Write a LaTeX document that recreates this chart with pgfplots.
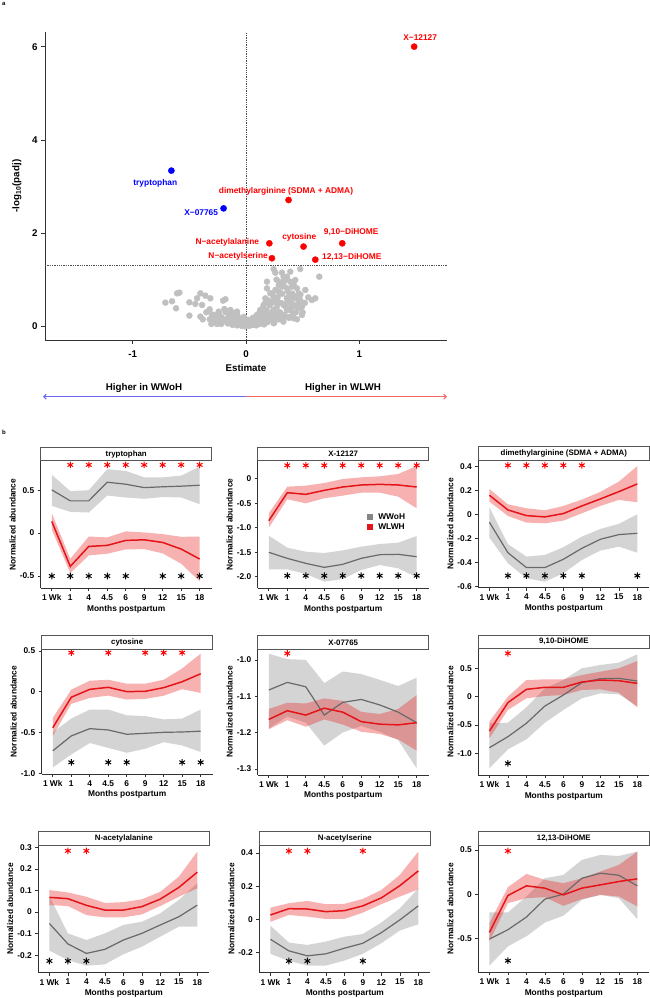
\documentclass[border=0pt]{standalone}
\usepackage{pgfplots}
\pgfplotsset{compat=1.18}
\usepackage{pgfplotstable}
\usetikzlibrary{arrows.meta}
\usepackage{fontspec}
\setmainfont{Liberation Sans}

\definecolor{linered}{RGB}{228,20,24}
\definecolor{linegray}{RGB}{105,105,105}
\definecolor{bandred}{RGB}{235,40,40}
\definecolor{bandgray}{RGB}{120,120,120}
\definecolor{dotgray}{RGB}{192,192,192}
\definecolor{sigred}{RGB}{255,0,0}
\definecolor{sigblue}{RGB}{0,0,255}
\definecolor{stripc}{RGB}{85,85,85}

\newcommand{\tickfont}{\bfseries\fontsize{8.4}{9}\selectfont}
\newcommand{\labfont}{\bfseries\fontsize{8.4}{9}\selectfont}

\pgfplotsset{
  base/.style={
    scale only axis,
    axis x line*=bottom, axis y line*=left,
    axis line style={-, line width=0.6bp, draw=black!80},
    tick align=outside, major tick length=3bp,
    every tick/.style={black!80, line width=0.6bp},
    tick label style={font=\tickfont},
    label style={font=\labfont},
    /pgf/number format/assume math mode=true,
  },
  pan/.style={
    base, width=171bp, anchor=north west,
    xmin=-0.6, xmax=8.65,
    xtick={0,...,8}, xticklabels={1 Wk,1,4,4.5,6,9,12,15,18},
    xlabel={Months postpartum}, ylabel={Normalized abundance},
    xlabel style={at={(axis description cs:0.5,-0.165)}, anchor=center},
    ylabel style={at={(axis description cs:-0.164,0.5)}, anchor=center},
  },
  gband/.style={fill=bandgray, fill opacity=0.32, draw=none},
  rband/.style={fill=bandred, fill opacity=0.36, draw=none},
  gline/.style={draw=linegray, line width=1.2bp},
  rline/.style={draw=linered, line width=1.5bp},
  rstar/.style={only marks, mark=asterisk, mark size=3.3bp,
    mark options={line width=1bp}, color=sigred},
  kstar/.style={only marks, mark=asterisk, mark size=3.3bp,
    mark options={line width=1bp}, color=black},
}

% #1: band table (rows 1-9 upper limits, rows 10-18 lower limits reversed)
% #2: mean table; g = WWoH, r = WLWH
\newcommand{\ribbons}[2]{%
  \addplot[gband] table[x=t,y=g]{#1};
  \addplot[rband] table[x=t,y=r]{#1};
  \addplot[gline] table[x=t,y=g]{#2};
  \addplot[rline] table[x=t,y=r]{#2};
}
\newcommand{\facetstrip}[2]{%
  \draw[stripc, fill=white, line width=0.6bp] (#1.north west) rectangle ([yshift=13.4bp]#1.north east);
  \node[font=\bfseries\fontsize{7.9}{9}\selectfont, inner sep=0pt] at ([yshift=6.7bp]#1.north) {#2};
}

% volcano: non-significant metabolites
\pgfplotstableread{
x y
-0.712 0.507
-0.653 0.536
-0.618 0.386
-0.609 0.707
-0.588 0.721
-0.500 0.514
-0.500 0.229
-0.447 0.479
-0.432 0.600
-0.403 0.707
-0.388 0.457
-0.403 0.207
-0.382 0.150
-0.359 0.657
-0.315 0.600
-0.321 0.364
-0.306 0.050
-0.285 0.243
-0.256 0.050
-0.241 0.314
-0.218 0.171
-0.203 0.550
-0.182 0.579
-0.191 0.371
-0.168 0.314
-0.138 0.350
-0.109 0.279
-0.079 0.314
-0.074 0.221
0.009 0.064
0.068 0.136
0.097 0.243
0.126 0.350
0.156 0.457
0.171 0.600
0.185 0.814
0.185 0.957
0.244 1.229
0.259 1.150
0.318 1.150
0.332 1.064
0.362 1.064
0.391 1.171
0.347 0.993
0.391 0.957
0.435 0.993
0.479 1.229
0.524 0.779
0.582 0.564
0.612 0.600
0.647 1.064
0.494 0.421
0.494 0.243
0.421 0.171
0.391 0.207
0.362 0.350
0.274 0.564
0.244 0.636
0.215 0.707
0.288 0.743
0.318 0.850
0.362 0.814
0.406 0.850
0.450 0.814
0.465 0.707
0.421 0.636
0.479 0.564
0.450 0.421
0.406 0.457
0.332 0.457
0.244 0.350
0.215 0.243
0.274 0.243
0.332 0.171
0.244 0.064
0.185 0.136
0.156 0.064
-0.28 0.12
-0.25 0.08
-0.22 0.05
-0.20 0.10
-0.18 0.15
-0.16 0.06
-0.14 0.20
-0.13 0.10
-0.12 0.03
-0.10 0.14
-0.09 0.07
-0.08 0.02
-0.07 0.11
-0.06 0.17
-0.05 0.05
-0.04 0.01
-0.03 0.09
-0.02 0.03
-0.01 0.00
0.00 0.05
0.01 0.02
0.02 0.08
0.03 0.01
0.04 0.04
0.05 0.10
0.06 0.03
0.07 0.06
0.08 0.12
0.09 0.02
0.10 0.08
0.11 0.15
0.12 0.05
0.13 0.20
0.14 0.10
0.15 0.27
0.16 0.04
0.17 0.18
0.18 0.35
0.19 0.09
0.20 0.25
0.21 0.45
0.22 0.14
0.23 0.30
0.24 0.52
0.25 0.08
0.26 0.20
0.27 0.40
0.28 0.62
0.29 0.15
0.30 0.30
0.31 0.50
0.32 0.70
0.33 0.10
0.34 0.25
0.35 0.42
0.36 0.60
0.37 0.75
0.38 0.18
0.39 0.35
0.40 0.55
0.41 0.70
0.42 0.28
0.43 0.45
0.44 0.60
0.46 0.38
0.47 0.52
0.48 0.68
0.50 0.30
0.52 0.50
0.55 0.62
-0.18 0.30
-0.15 0.25
-0.22 0.20
-0.26 0.18
-0.30 0.25
-0.32 0.15
-0.35 0.30
-0.12 0.28
-0.08 0.22
-0.04 0.15
0.02 0.14
0.06 0.18
0.09 0.22
0.12 0.30
0.15 0.40
0.17 0.50
0.20 0.55
0.23 0.70
0.26 0.78
0.29 0.88
0.30 0.95
0.27 1.00
0.33 0.90
0.36 0.50
0.38 0.65
0.40 0.40
0.42 0.90
0.44 0.30
0.45 0.15
0.28 0.48
0.31 0.20
0.25 0.35
0.10 0.20
-0.02 0.20
-0.11 0.20
-0.24 0.28
}\vgray

% time courses: t = 1 Wk,1,4,4.5,6,9,12,15,18 months
% tryptophan
\pgfplotstableread{
t g r
0 0.504 0.136
1 0.376 -0.388
2 0.376 -0.155
3 0.593 -0.143
4 0.57 -0.085
5 0.53 -0.078
6 0.54 -0.109
7 0.547 -0.186
8 0.558 -0.302
}\mA
\pgfplotstableread{
t g r
0 0.68 0.233
1 0.49 -0.30
2 0.50 -0.04
3 0.744 -0.05
4 0.725 0.02
5 0.65 0.008
6 0.65 -0.012
7 0.67 -0.043
8 0.775 -0.04
8 0.337 -0.562
7 0.415 -0.357
6 0.42 -0.236
5 0.40 -0.186
4 0.415 -0.19
3 0.438 -0.24
2 0.24 -0.26
1 0.248 -0.465
0 0.318 0.04
}\bA
% X-12127
\pgfplotstableread{
t g r
0 -1.503 -0.857
1 -1.626 -0.286
2 -1.728 -0.32
3 -1.81 -0.238
4 -1.748 -0.17
5 -1.626 -0.129
6 -1.551 -0.116
7 -1.544 -0.129
8 -1.592 -0.17
}\mB
\pgfplotstableread{
t g r
0 -1.163 -0.707
1 -1.408 -0.163
2 -1.49 -0.143
3 -1.517 -0.088
4 -1.463 -0.007
5 -1.388 0.027
6 -1.333 0.048
7 -1.306 0.095
8 -1.17 0.258
8 -2.01 -0.605
7 -1.83 -0.367
6 -1.762 -0.286
5 -1.864 -0.286
4 -2.05 -0.347
3 -2.1 -0.4
2 -1.945 -0.503
1 -1.85 -0.42
0 -1.85 -1.0
}\bB
% dimethylarginine (SDMA + ADMA)
\pgfplotstableread{
t g r
0 -0.066 0.158
1 -0.319 0.036
2 -0.443 -0.011
3 -0.443 -0.022
4 -0.374 0.006
5 -0.283 0.069
6 -0.208 0.127
7 -0.169 0.188
8 -0.158 0.252
}\mC
\pgfplotstableread{
t g r
0 0.058 0.21
1 -0.247 0.083
2 -0.352 0.05
3 -0.338 0.033
4 -0.274 0.069
5 -0.186 0.122
6 -0.122 0.186
7 -0.08 0.271
8 0 0.4
8 -0.319 0.1
7 -0.269 0.119
6 -0.302 0.069
5 -0.38 0.008
4 -0.49 -0.053
3 -0.56 -0.075
2 -0.532 -0.069
1 -0.407 -0.014
0 -0.194 0.105
}\bC
% cytosine
\pgfplotstableread{
t g r
0 -0.726 -0.442
1 -0.543 -0.069
2 -0.454 0.028
3 -0.47 0.053
4 -0.523 0
5 -0.511 0.004
6 -0.499 0.049
7 -0.495 0.122
8 -0.485 0.219
}\mD
\pgfplotstableread{
t g r
0 -0.50 -0.32
1 -0.33 0.024
2 -0.22 0.134
3 -0.22 0.146
4 -0.29 0.097
5 -0.30 0.097
6 -0.34 0.146
7 -0.33 0.285
8 -0.22 0.465
8 -0.74 -0.016
7 -0.66 0.03
6 -0.62 -0.05
5 -0.70 -0.089
4 -0.75 -0.097
3 -0.69 -0.049
2 -0.63 -0.077
1 -0.77 -0.15
0 -0.93 -0.543
}\bD
% X-07765
\pgfplotstableread{
t g r
0 -1.083 -1.164
1 -1.062 -1.14
2 -1.074 -1.152
3 -1.152 -1.133
4 -1.117 -1.144
5 -1.109 -1.17
6 -1.124 -1.177
7 -1.144 -1.179
8 -1.173 -1.173
}\mE
\pgfplotstableread{
t g r
0 -0.983 -1.135
1 -0.998 -1.118
2 -1.0 -1.12
3 -1.064 -1.106
4 -1.032 -1.113
5 -1.039 -1.143
6 -1.055 -1.149
7 -1.072 -1.135
8 -1.049 -1.097
8 -1.299 -1.25
7 -1.221 -1.219
6 -1.198 -1.204
5 -1.182 -1.198
4 -1.2 -1.178
3 -1.236 -1.164
2 -1.173 -1.184
1 -1.156 -1.166
0 -1.189 -1.191
}\bE
% 9,10-DiHOME
\pgfplotstableread{
t g r
0 -0.9 -0.606
1 -0.706 -0.106
2 -0.47 0.129
3 -0.165 0.165
4 0.029 0.165
5 0.247 0.259
6 0.318 0.294
7 0.324 0.282
8 0.276 0.235
}\mF
\pgfplotstableread{
t g r
0 -0.47 -0.44
1 -0.459 0
2 -0.188 0.294
3 0.147 0.306
4 0.294 0.306
5 0.5 0.382
6 0.559 0.441
7 0.6 0.5
8 0.747 0.63
8 -0.165 -0.188
7 0.041 0.071
6 0.059 0.129
5 -0.029 0.118
4 -0.235 0.029
3 -0.459 0.012
2 -0.753 -0.029
1 -0.929 -0.235
0 -1.265 -0.735
}\bF
% N-acetylalanine
\pgfplotstableread{
t g r
0 -0.053 0.068
1 -0.148 0.062
2 -0.192 0.031
3 -0.173 0.009
4 -0.13 0.009
5 -0.099 0.025
6 -0.06 0.06
7 -0.022 0.114
8 0.032 0.185
}\mG
\pgfplotstableread{
t g r
0 0.074 0.102
1 -0.099 0.091
2 -0.13 0.071
3 -0.099 0.042
4 -0.06 0.046
5 -0.045 0.059
6 -0.006 0.094
7 0.056 0.164
8 0.133 0.28
8 -0.068 0.11
7 -0.068 0.071
6 -0.114 0.028
5 -0.161 -0.011
4 -0.196 -0.025
3 -0.243 -0.025
2 -0.249 -0.014
1 -0.223 0.028
0 -0.179 0.032
}\bG
% N-acetylserine
\pgfplotstableread{
t g r
0 -0.121 0.026
1 -0.191 0.064
2 -0.221 0.062
3 -0.209 0.046
4 -0.175 0.052
5 -0.145 0.081
6 -0.081 0.129
7 -0.004 0.203
8 0.081 0.292
}\mH
\pgfplotstableread{
t g r
0 -0.038 0.07
1 -0.141 0.097
2 -0.155 0.111
3 -0.135 0.091
4 -0.105 0.093
5 -0.089 0.123
6 -0.02 0.177
7 0.066 0.268
8 0.187 0.409
8 -0.03 0.181
7 -0.068 0.137
6 -0.145 0.091
5 -0.209 0.04
4 -0.25 0.002
3 -0.28 0.002
2 -0.28 0.016
1 -0.252 0.026
0 -0.209 -0.016
}\bH
% 12,13-DiHOME
\pgfplotstableread{
t g r
0 -0.508 -0.432
1 -0.402 -0.015
2 -0.259 0.094
3 -0.056 0.068
4 0 -0.008
5 0.18 0.068
6 0.237 0.105
7 0.214 0.143
8 0.094 0.173
}\mI
\pgfplotstableread{
t g r
0 -0.207 -0.327
1 -0.207 0.079
2 -0.026 0.229
3 0.18 0.162
4 0.218 0.124
5 0.387 0.18
6 0.444 0.256
7 0.432 0.331
8 0.481 0.481
8 -0.282 -0.139
7 -0.045 -0.026
6 -0.008 -0.008
5 -0.064 -0.056
4 -0.244 -0.132
3 -0.32 -0.034
2 -0.477 -0.045
1 -0.59 -0.102
0 -0.808 -0.534
}\bI

\begin{document}
\begin{tikzpicture}[x=1bp,y=1bp]
\path[use as bounding box] (0,0) rectangle (650,998);

\node[anchor=north west, inner sep=0pt, font=\bfseries\fontsize{6}{7}\selectfont] at (2,996) {a};
\node[anchor=north west, inner sep=0pt, font=\bfseries\fontsize{6}{7}\selectfont] at (2,568) {b};

% ---------------- volcano plot ----------------
\begin{axis}[base, at={(45bp,966bp)}, anchor=north west,
  width=402bp, height=308bp,
  xmin=-1.775, xmax=1.775, ymin=-0.294, ymax=6.315,
  xtick={-1,0,1}, xticklabels={-1,0,1},
  ytick={0,2,4,6}, yticklabels={0,2,4,6},
  major tick length=4bp,
  tick label style={font=\bfseries\fontsize{9.8}{11}\selectfont},
  xticklabel style={yshift=-3bp},
  label style={font=\bfseries\fontsize{9.8}{11}\selectfont},
  xlabel={Estimate},
  xlabel style={at={(axis description cs:0.5,-0.091)}, anchor=center},
  ylabel={-log$_{\mathbf{10}}$(padj)},
  ylabel style={at={(axis description cs:-0.07,0.5)}, anchor=center},
  clip=false]
  \addplot[draw=black!70, line width=0.5bp, dash pattern=on 1.3bp off 1bp] coordinates {(0,-0.294) (0,6.315)};
  \addplot[draw=black!70, line width=0.5bp, dash pattern=on 1.3bp off 1bp] coordinates {(-1.775,1.301) (1.775,1.301)};
  \addplot[only marks, mark=*, mark size=3bp, color=dotgray] table[x=x,y=y]{\vgray};
  \addplot[only marks, mark=*, mark size=3.1bp, color=sigblue] coordinates {(-0.659,3.34) (-0.198,2.53)};
  \addplot[only marks, mark=*, mark size=3.1bp, color=sigred] coordinates {
    (1.485,6.0) (0.376,2.71) (0.206,1.78) (0.508,1.71) (0.85,1.78) (0.229,1.46) (0.612,1.43)};
  \begin{scope}[every node/.style={font=\bfseries\fontsize{8.4}{10}\selectfont, inner sep=0pt}]
    \node[sigred] at (axis cs:1.538,6.2) {X−12127};
    \node[sigblue] at (axis cs:-0.801,3.07) {tryptophan};
    \node[sigred] at (axis cs:0.353,2.905) {dimethylarginine (SDMA + ADMA)};
    \node[sigblue, anchor=east] at (axis cs:-0.245,2.43) {X−07765};
    \node[sigred, anchor=east] at (axis cs:0.117,1.80) {N−acetylalanine};
    \node[sigred] at (axis cs:0.47,1.90) {cytosine};
    \node[sigred] at (axis cs:0.929,2.01) {9,10−DiHOME};
    \node[sigred, anchor=east] at (axis cs:0.194,1.506) {N−acetylserine};
    \node[sigred, anchor=west] at (axis cs:0.671,1.49) {12,13−DiHOME};
  \end{scope}
\end{axis}

% direction arrow under the volcano plot
\draw[draw={rgb,255:red,105;green,105;blue,240}, line width=1.1bp, {Straight Barb[length=2.5bp,width=5bp]}-] (43,601.3) -- (245.7,601.3);
\draw[draw={rgb,255:red,245;green,105;blue,105}, line width=1.1bp, -{Straight Barb[length=2.5bp,width=5bp]}] (245.7,601.3) -- (447,601.3);
\node[font=\bfseries\fontsize{9.8}{11}\selectfont] at (144,609.7) {Higher in WWoH};
\node[font=\bfseries\fontsize{9.8}{11}\selectfont] at (343,609.7) {Higher in WLWH};

% ---------------- row 1 ----------------
\begin{axis}[pan, name=p1, at={(40.7bp,537.3bp)}, height=127.6bp,
  ymin=-0.643, ymax=0.844, ytick={-0.5,0,0.5}, yticklabels={-0.5,0,0.5}]
  \ribbons{\bA}{\mA}
  \addplot[rstar] coordinates {(1,0.795) (2,0.795) (3,0.795) (4,0.795) (5,0.795) (6,0.795) (7,0.795) (8,0.795)};
  \addplot[kstar] coordinates {(0,-0.5) (1,-0.5) (2,-0.5) (3,-0.5) (4,-0.5) (6,-0.5) (7,-0.5) (8,-0.5)};
\end{axis}
\facetstrip{p1}{tryptophan}

\begin{axis}[pan, name=p2, at={(257.7bp,537.3bp)}, height=127.6bp,
  ymin=-2.237, ymax=0.367, ytick={-2,-1.5,-1,-0.5,0}, yticklabels={-2.0,-1.5,-1.0,-0.5,0}]
  \ribbons{\bB}{\mB}
  \addplot[rstar] coordinates {(1,0.272) (2,0.272) (3,0.272) (4,0.272) (5,0.272) (6,0.272) (7,0.272) (8,0.272)};
  \addplot[kstar] coordinates {(1,-1.98) (2,-1.98) (3,-1.98) (4,-1.98) (5,-1.98) (6,-1.98) (7,-1.98) (8,-1.98)};
  \fill[color=bandgray!90] (axis description cs:0.658,0.561) ++(-2.9bp,-2.9bp) rectangle ++(5.8bp,5.8bp);
  \fill[color=linered] (axis description cs:0.658,0.483) ++(-2.9bp,-2.9bp) rectangle ++(5.8bp,5.8bp);
  \node[anchor=west, inner sep=0pt, font=\bfseries\fontsize{8.4}{9}\selectfont] at (axis description cs:0.704,0.561) {WWoH};
  \node[anchor=west, inner sep=0pt, font=\bfseries\fontsize{8.4}{9}\selectfont] at (axis description cs:0.704,0.483) {WLWH};
\end{axis}
\facetstrip{p2}{X-12127}

\begin{axis}[pan, name=p3, at={(478.3bp,538bp)}, height=127.7bp,
  ymin=-0.61, ymax=0.451, ytick={-0.6,-0.4,-0.2,0,0.2,0.4}, yticklabels={-0.6,-0.4,-0.2,0,0.2,0.4}]
  \ribbons{\bC}{\mC}
  \addplot[rstar] coordinates {(1,0.407) (2,0.407) (3,0.407) (4,0.407) (5,0.407)};
  \addplot[kstar] coordinates {(1,-0.51) (2,-0.51) (3,-0.51) (4,-0.51) (5,-0.51) (8,-0.51)};
\end{axis}
\facetstrip{p3}{dimethylarginine (SDMA + ADMA)}

% ---------------- row 2 ----------------
\begin{axis}[pan, name=p4, at={(41.7bp,349bp)}, height=125bp,
  ymin=-1.01, ymax=0.523, ytick={-1,-0.5,0,0.5}, yticklabels={-1.0,-0.5,0,0.5}]
  \ribbons{\bD}{\mD}
  \addplot[rstar] coordinates {(1,0.478) (3,0.478) (5,0.478) (6,0.478) (7,0.478)};
  \addplot[kstar] coordinates {(1,-0.867) (3,-0.867) (4,-0.867) (7,-0.867) (8,-0.867)};
\end{axis}
\facetstrip{p4}{cytosine}

\begin{axis}[pan, name=p5, at={(257.7bp,349bp)}, height=126bp,
  ymin=-1.317, ymax=-0.970, ytick={-1.3,-1.2,-1.1,-1.0}, yticklabels={-1.3,-1.2,-1.1,-1.0}]
  \ribbons{\bE}{\mE}
  \addplot[rstar] coordinates {(1,-0.982)};
\end{axis}
\facetstrip{p5}{X-07765}

\begin{axis}[pan, name=p6, at={(478.3bp,349.7bp)}, height=126.7bp,
  ymin=-1.382, ymax=0.854, ytick={-1,-0.5,0,0.5}, yticklabels={-1.0,-0.5,0,0.5}]
  \ribbons{\bF}{\mF}
  \addplot[rstar] coordinates {(1,0.765)};
  \addplot[kstar] coordinates {(1,-1.176)};
\end{axis}
\facetstrip{p6}{9,10-DiHOME}

% ---------------- row 3 ----------------
\begin{axis}[pan, name=p7, at={(38.3bp,153bp)}, height=127.7bp,
  ymin=-0.2815, ymax=0.311, ytick={-0.2,-0.1,0,0.1,0.2,0.3}, yticklabels={-0.2,-0.1,0,0.1,0.2,0.3}]
  \ribbons{\bG}{\mG}
  \addplot[rstar] coordinates {(1,0.284) (2,0.284)};
  \addplot[kstar] coordinates {(0,-0.227) (1,-0.227) (2,-0.227)};
\end{axis}
\facetstrip{p7}{N-acetylalanine}

\begin{axis}[pan, name=p8, at={(259.3bp,153bp)}, height=127.7bp,
  ymin=-0.323, ymax=0.449, ytick={-0.2,0,0.2,0.4}, yticklabels={-0.2,0,0.2,0.4}]
  \ribbons{\bH}{\mH}
  \addplot[rstar] coordinates {(1,0.413) (2,0.413) (5,0.413)};
  \addplot[kstar] coordinates {(1,-0.252) (2,-0.252) (5,-0.252)};
\end{axis}
\facetstrip{p8}{N-acetylserine}

\begin{axis}[pan, name=p9, at={(478.3bp,153bp)}, height=127bp,
  ymin=-0.88, ymax=0.556, ytick={-0.5,0,0.5}, yticklabels={-0.5,0,0.5}]
  \ribbons{\bI}{\mI}
  \addplot[rstar] coordinates {(1,0.489)};
  \addplot[kstar] coordinates {(1,-0.752)};
\end{axis}
\facetstrip{p9}{12,13-DiHOME}
\end{tikzpicture}
\end{document}
